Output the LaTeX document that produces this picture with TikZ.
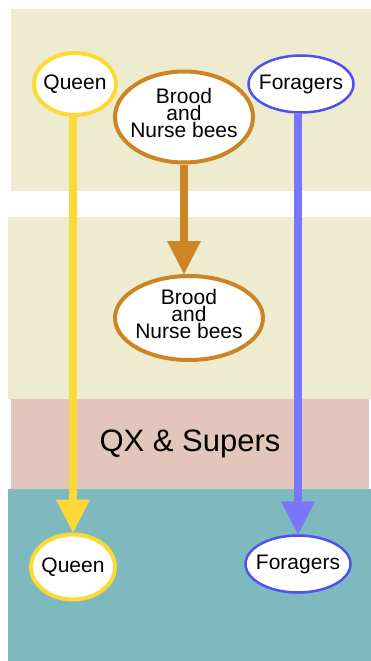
\documentclass[tikz,border=0pt]{standalone}
\usepackage{fontspec}
\setmainfont{Liberation Sans}
\usetikzlibrary{arrows.meta,shapes.geometric}

\definecolor{broodbox}{HTML}{EDECD0}
\definecolor{excluder}{HTML}{E3C6BB}
\definecolor{superbox}{HTML}{7EB9C0}
\definecolor{queencol}{HTML}{FCD936}
\definecolor{broodcol}{HTML}{CD8523}
\definecolor{foragecol}{HTML}{5050F0}
\definecolor{flightcol}{HTML}{7876F8}

\tikzset{
  bees/.style={ellipse, draw, fill=white, inner sep=-12pt, align=center,
    font=\fontsize{21}{17}\selectfont},
  nurses/.style={bees, draw=broodcol, line width=4pt, text depth=8pt},
  move/.style={line width=8pt, -{Triangle[length=33pt,width=34pt,line width=0pt]}}
}

\begin{document}
\begin{tikzpicture}[x=1pt,y=-1pt]
\useasboundingbox (0,0) rectangle (371,661);

% hive boxes, top to bottom
\fill[broodbox] (11,9) rectangle (371,191);
\fill[broodbox] (8,217) rectangle (371,399);
\fill[excluder] (11,399) rectangle (369,489);
\fill[superbox] (8,489) rectangle (371,661);

\node[font=\fontsize{31}{31}\selectfont] at (190,444) (qx) {QX \& Supers};

% bees in the top box
\node[bees, draw=queencol, line width=4pt, minimum width=82pt, minimum height=62pt] at (75,84) (q1) {Queen};
\node[nurses, minimum width=138pt, minimum height=91pt] at (184,117) (b1) {Brood\\and\\Nurse bees};
\node[bees, draw=foragecol, line width=2.5pt, minimum width=105pt, minimum height=57pt] at (301,84) (f1) {Foragers};

% after the split
\node[nurses, minimum width=148pt, minimum height=84pt] at (189,318) (b2) {Brood\\and\\Nurse bees};
\node[bees, draw=queencol, line width=4pt, minimum width=84pt, minimum height=65pt] at (73,567) (q2) {Queen};
\node[bees, draw=foragecol, line width=2.5pt, minimum width=105pt, minimum height=57pt] at (298,564) (f2) {Foragers};

\draw[move, queencol] (q1.south -| q2) -- (q2);
\draw[move, broodcol] (b1) -- (b1 |- b2.north);
\draw[move, flightcol] (f1.south -| f2) -- (f2);

\end{tikzpicture}
\end{document}
